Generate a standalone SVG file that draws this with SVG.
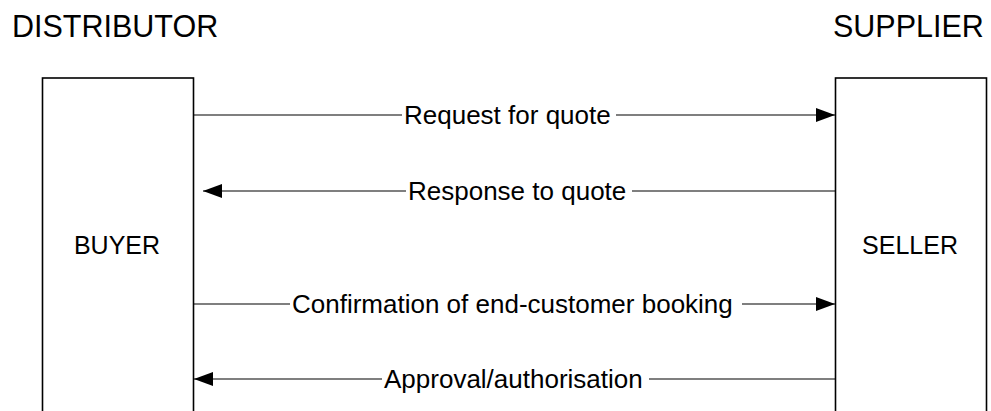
<svg xmlns="http://www.w3.org/2000/svg" width="991" height="411" viewBox="0 0 991 411">
  <style>
    .box { fill: #ffffff; stroke: #000000; stroke-width: 1.6; }
    .conn { stroke: #000000; stroke-width: 1.1; fill: none; }
    .lbl { font-family: "Liberation Sans", Arial, sans-serif; font-size: 26px; fill: #000000; }
    .hdr { font-family: "Liberation Sans", Arial, sans-serif; font-size: 30.5px; fill: #000000; }
    .node { font-family: "Liberation Sans", Arial, sans-serif; font-size: 25px; fill: #000000; text-anchor: middle; }
  </style>
  <defs>
    <marker id="ah" markerWidth="20" markerHeight="14" refX="19" refY="7" orient="auto" markerUnits="userSpaceOnUse">
      <path d="M0,0 L19,7 L0,14 Z" fill="#000000"/>
    </marker>
  </defs>
  <rect width="991" height="411" fill="#ffffff"/>
  <text class="hdr" x="12" y="37">DISTRIBUTOR</text>
  <text class="hdr" x="833" y="37">SUPPLIER</text>

  <g id="buyer">
    <rect class="box" x="42.5" y="78" width="151" height="360"/>
    <text class="node" x="117" y="254">BUYER</text>
  </g>
  <g id="seller">
    <rect class="box" x="835.5" y="78" width="151" height="360"/>
    <text class="node" x="910" y="254">SELLER</text>
  </g>

  <g id="connectors">
    <line class="conn" x1="194" y1="115" x2="402" y2="115"/>
    <line class="conn" x1="616" y1="115" x2="835" y2="115" marker-end="url(#ah)"/>
    <text class="lbl" x="404" y="124">Request for quote</text>

    <line class="conn" x1="835" y1="191" x2="632" y2="191"/>
    <line class="conn" x1="406" y1="191" x2="203" y2="191" marker-end="url(#ah)"/>
    <text class="lbl" x="408" y="200">Response to quote</text>

    <line class="conn" x1="194" y1="304" x2="290" y2="304"/>
    <line class="conn" x1="742" y1="304" x2="835" y2="304" marker-end="url(#ah)"/>
    <text class="lbl" x="292" y="313">Confirmation of end-customer booking</text>

    <line class="conn" x1="835" y1="379" x2="649" y2="379"/>
    <line class="conn" x1="382" y1="379" x2="194" y2="379" marker-end="url(#ah)"/>
    <text class="lbl" x="384" y="388">Approval/authorisation</text>
  </g>
</svg>
